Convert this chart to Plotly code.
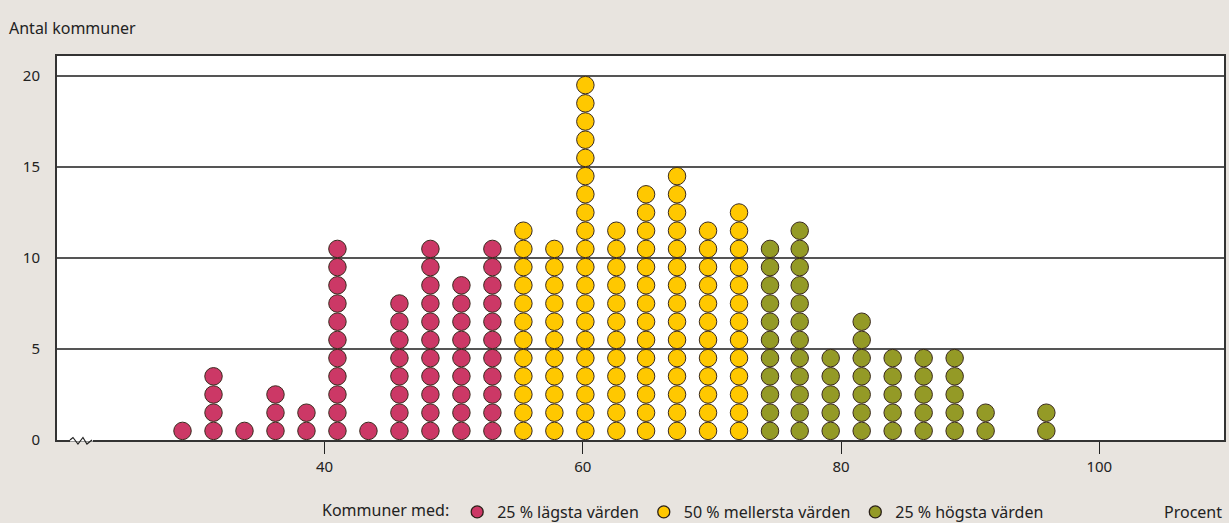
import plotly.graph_objects as go

# procent-klasser (x) och antal kommuner per klass, uppdelat på grupp
low_x = [29.0, 31.4, 33.8, 36.2, 38.6, 41.0, 43.4, 45.8, 48.2, 50.6, 53.0]
low_n = [1, 4, 1, 3, 2, 11, 1, 8, 11, 9, 11]

mid_x = [55.4, 57.8, 60.2, 62.6, 64.9, 67.3, 69.7, 72.1]
mid_n = [12, 11, 20, 12, 14, 15, 12, 13]

high_x = [74.5, 76.8, 79.2, 81.6, 84.0, 86.4, 88.8, 91.2, 95.9]
high_n = [11, 12, 5, 7, 5, 5, 5, 2, 2]

labels = ["25 % lägsta värden", "50 % mellersta värden", "25 % högsta värden"]
colors = ["#cc3866", "#ffc800", "#949a26"]

FONT = "Noto Sans"
BG = "#e8e4df"
W, H = 1229, 523
L, R, T, B = 57, 3, 56, 83
PW, PH = W - L - R, H - T - B


def stack(xs, ns):
    # one dot per kommun, stacked from the axis upward
    px, py = [], []
    for x, n in zip(xs, ns):
        for k in range(n):
            px.append(x)
            py.append(k + 0.5)
    return px, py


fig = go.Figure()

for (xs, ns), lab, col in zip([(low_x, low_n), (mid_x, mid_n), (high_x, high_n)], labels, colors):
    px, py = stack(xs, ns)
    fig.add_trace(go.Scatter(
        x=px, y=py, mode="markers", showlegend=False, hoverinfo="x+y",
        marker=dict(size=17.5, color=col, line=dict(color="#3a2a1e", width=1)),
    ))
    # legend-only entry with a smaller swatch
    fig.add_trace(go.Scatter(
        x=[None], y=[None], mode="markers", name=lab,
        marker=dict(size=12, color=col, line=dict(color="#2a2018", width=1.3)),
    ))

# axis break on the x axis (pixel offsets from the plot's lower left corner)
def pxp(dx, dy):
    return f"{dx / PW:.5f} {dy / PH:.5f}"

fig.add_shape(type="line", xref="paper", yref="paper", x0=13 / PW, x1=36 / PW, y0=0, y1=0,
              line=dict(color="white", width=3), layer="above")
fig.add_shape(type="path", xref="paper", yref="paper",
              path="M " + " L ".join([pxp(13, 0), pxp(16, 2.5), pxp(21, -4), pxp(26, 2.5),
                                      pxp(30, -4), pxp(35, 0)]),
              line=dict(color="#222", width=1.2), layer="above")

fig.add_annotation(text="Antal kommuner", xref="paper", yref="paper", x=-(L - 7) / PW, y=1 + 28 / PH,
                   xanchor="left", yanchor="middle", showarrow=False,
                   font=dict(family=FONT, size=16, color="#222"))
fig.add_annotation(text="Procent", xref="paper", yref="paper", x=1, y=-72 / PH,
                   xanchor="right", yanchor="middle", showarrow=False,
                   font=dict(family=FONT, size=16, color="#222"))

fig.update_layout(
    width=W, height=H,
    margin=dict(l=L, r=R, t=T, b=B),
    paper_bgcolor=BG, plot_bgcolor="white",
    font=dict(family=FONT, size=15, color="#222"),
    legend=dict(
        orientation="h", xref="container", yref="container",
        x=320 / W, xanchor="left", y=1 - 512 / H, yanchor="middle",
        title=dict(text="Kommuner med:", side="left", font=dict(size=16)),
        font=dict(size=16), bgcolor="rgba(0,0,0,0)", itemclick=False,
        traceorder="normal",
    ),
    xaxis=dict(
        range=[19.28, 109.66], tickvals=[40, 60, 80, 100], showgrid=False,
        zeroline=False, ticks="outside", ticklen=12, tickcolor="#222", tickwidth=1,
        showline=True, linecolor="#333", linewidth=2, mirror=True,
        tickfont=dict(size=15),
    ),
    yaxis=dict(
        range=[0, 21.1], tickvals=[0, 5, 10, 15, 20], showgrid=True,
        gridcolor="#555", gridwidth=1.5, zeroline=False, ticks="",
        showline=True, linecolor="#333", linewidth=2, mirror=True,
        tickfont=dict(size=15), ticklabelstandoff=12,
    ),
)

fig.write_html("out.html", config={"displayModeBar": False},
               post_script="document.body.style.margin = '0';")
